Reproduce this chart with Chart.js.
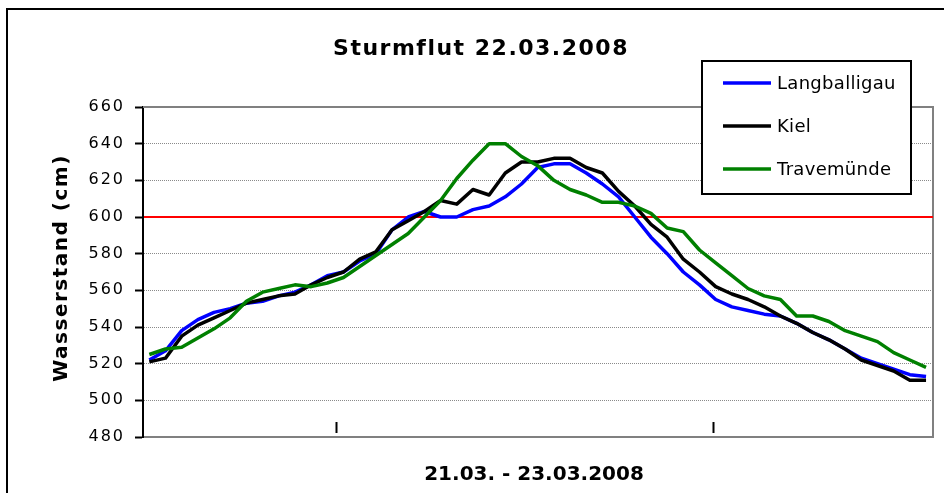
<!DOCTYPE html>
<html>
<head>
<meta charset="utf-8">
<script src="https://cdn.jsdelivr.net/npm/chart.js@4.4.1/dist/chart.umd.min.js"></script>
<style>
html,body{margin:0;padding:0;background:#fff;}
canvas{display:block;}
</style>
</head>
<body>
<canvas id="c" width="944" height="493"></canvas>
<script>
// ---------- texts ----------
const chartTitle = 'Sturmflut 22.03.2008';
const yAxisTitle = 'Wasserstand (cm)';
const xAxisTitle = '21.03. - 23.03.2008';
const seriesNames = ['Langballigau', 'Kiel', 'Travemünde'];

// ---------- data ----------
const sampleIndex = [0,1,2,3,4,5,6,7,8,9,10,11,12,13,14,15,16,17,18,19,20,21,22,23,24,
                     25,26,27,28,29,30,31,32,33,34,35,36,37,38,39,40,41,42,43,44,45,46,47,48];
const langballigau = [522,527,538,544,548,550,553,554,557,559,563,568,570,576,580,593,600,603,600,600,604,606,611,618,627,
                      629,629,624,618,611,600,589,580,570,563,555,551,549,547,546,542,537,533,528,523,520,517,514,513];
const kiel         = [521,523,535,541,545,549,553,555,557,558,563,567,570,577,581,593,598,603,609,607,615,612,624,630,630,
                      632,632,627,624,614,606,596,589,577,570,562,558,555,551,546,542,537,533,528,522,519,516,511,511];
const travemuende  = [525,528,529,534,539,545,554,559,561,563,562,564,567,573,579,585,591,600,609,621,631,640,640,633,628,
                      620,615,612,608,608,606,602,594,592,582,575,568,561,557,555,546,546,543,538,535,532,526,522,518];
const yTickValues = [480,500,520,540,560,580,600,620,640,660];
const floodLevel = 600;
const dayBoundaries = [11.55, 34.85];   // midnight 22.03 and 23.03 on the sample axis
const seriesColors = ['#0000ff', '#000000', '#008000'];

const seriesValues = [langballigau, kiel, travemuende];
const toPoints = arr => arr.map((v, i) => ({x: sampleIndex[i], y: v}));

const decor = {
  id: 'decor',
  beforeUpdate(chart) { chart.ctx.letterSpacing = '2px'; },
  beforeDraw(chart) {
    const ctx = chart.ctx;
    ctx.letterSpacing = '2px';
    ctx.save();
    ctx.fillStyle = '#fff';
    ctx.fillRect(0, 0, chart.width, chart.height);
    ctx.restore();
  },
  beforeDatasetsDraw(chart) {
    const {ctx, chartArea: a, scales: {x, y}} = chart;
    ctx.save();
    ctx.strokeStyle = '#808080';
    ctx.lineWidth = 2;
    ctx.beginPath();
    ctx.moveTo(a.left, a.top);
    ctx.lineTo(a.right, a.top);
    ctx.lineTo(a.right, a.bottom);
    ctx.stroke();
    const yp = y.getPixelForValue(floodLevel);
    ctx.strokeStyle = '#ff0000';
    ctx.lineWidth = 2;
    ctx.beginPath();
    ctx.moveTo(a.left + 1, yp);
    ctx.lineTo(a.right, yp);
    ctx.stroke();
    ctx.strokeStyle = '#000';
    ctx.lineWidth = 2;
    dayBoundaries.forEach(v => {
      const xp = Math.round(x.getPixelForValue(v)) + 0.5;
      ctx.beginPath();
      ctx.moveTo(xp, a.bottom - 15);
      ctx.lineTo(xp, a.bottom - 4);
      ctx.stroke();
    });
    ctx.restore();
  },
  afterDraw(chart) {
    const ctx = chart.ctx;
    const a = chart.chartArea;
    ctx.save();
    // outer frame
    ctx.strokeStyle = '#000';
    ctx.lineWidth = 2;
    ctx.strokeRect(7, 9, 1200, 1200);
    ctx.fillStyle = '#000';
    // chart title
    ctx.letterSpacing = '1.5px';
    ctx.font = 'bold 22px "DejaVu Sans"';
    ctx.textAlign = 'center';
    ctx.textBaseline = 'middle';
    ctx.fillText(chartTitle, 481, 49);
    // x title
    ctx.letterSpacing = '0px';
    ctx.font = 'bold 20px "DejaVu Sans"';
    ctx.fillText(xAxisTitle, (a.left + a.right) / 2 - 4, 475);
    // y title
    ctx.save();
    ctx.letterSpacing = '1.5px';
    ctx.translate(62, 268);
    ctx.rotate(-Math.PI / 2);
    ctx.fillText(yAxisTitle, 0, 0);
    ctx.restore();
    // legend
    const lx = 702, ly = 61, lw = 209, lh = 133;
    ctx.fillStyle = '#fff';
    ctx.fillRect(lx, ly, lw, lh);
    ctx.strokeStyle = '#000';
    ctx.lineWidth = 2;
    ctx.strokeRect(lx, ly, lw, lh);
    ctx.letterSpacing = '0.3px';
    ctx.font = '18px "DejaVu Sans"';
    ctx.textAlign = 'left';
    chart.data.datasets.forEach((ds, i) => {
      const ry = 83 + i * 43;
      ctx.strokeStyle = ds.borderColor;
      ctx.lineWidth = 3.5;
      ctx.beginPath();
      ctx.moveTo(723, ry);
      ctx.lineTo(771, ry);
      ctx.stroke();
      ctx.fillStyle = '#000';
      ctx.fillText(ds.label, 777, ry + 1);
    });
    ctx.restore();
  }
};

new Chart(document.getElementById('c'), {
  type: 'line',
  data: {
    datasets: seriesNames.map((name, i) => ({
      label: name,
      data: toPoints(seriesValues[i]),
      borderColor: seriesColors[i],
      backgroundColor: seriesColors[i],
      borderWidth: 3.5,
      pointRadius: 0,
      tension: 0,
      fill: false,
      borderJoinStyle: 'round',
      order: 3 - i
    }))
  },
  options: {
    responsive: false,
    devicePixelRatio: 1,
    animation: false,
    events: [],
    layout: {padding: {left: 0, top: 107, right: 11, bottom: 0}},
    plugins: {legend: {display: false}, title: {display: false}, tooltip: {enabled: false}},
    scales: {
      x: {
        type: 'linear',
        min: -0.39,
        max: 48.43,
        ticks: {display: false},
        grid: {display: false, drawTicks: false},
        border: {display: true, color: '#808080', width: 2},
        afterFit(s) { s.height = 56; }
      },
      y: {
        type: 'linear',
        min: 480,
        max: 660,
        afterBuildTicks(s) { s.ticks = yTickValues.map(v => ({value: v})); },
        ticks: {
          color: '#000',
          font: {family: 'DejaVu Sans', size: 16},
          padding: 10
        },
        grid: {
          color: '#8a8a8a',
          lineWidth: 1,
          tickColor: '#000',
          tickWidth: 2,
          tickLength: 8
        },
        border: {display: true, color: '#000', width: 2, dash: [1, 1]},
        afterFit(s) { s.width = 143; }
      }
    }
  },
  plugins: [decor]
});
</script>
</body>
</html>
